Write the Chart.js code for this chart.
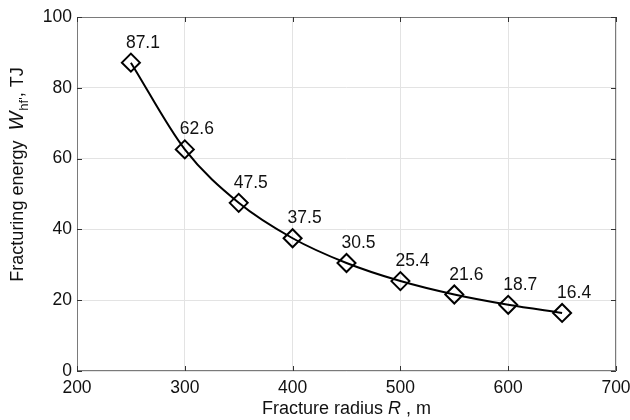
<!DOCTYPE html>
<html>
<head>
<meta charset="utf-8">
<script src="https://cdn.jsdelivr.net/npm/chart.js@4.4.0/dist/chart.umd.min.js"></script>
<style>
  html, body { margin: 0; padding: 0; background: #fff; }
  #wrap { width: 630px; height: 420px; position: relative; }
</style>
</head>
<body>
<div id="wrap"><canvas id="c" width="630" height="420"></canvas></div>
<script>
const radii = [250, 300, 350, 400, 450, 500, 550, 600, 650];
const energy = [87.1, 62.6, 47.5, 37.5, 30.5, 25.4, 21.6, 18.7, 16.4];
const xTicks = [200, 300, 400, 500, 600, 700];
const yTicks = [0, 20, 40, 60, 80, 100];

const FONT = '"Liberation Sans", Arial, sans-serif';

const decor = {
  id: 'decor',
  beforeDatasetsDraw(chart) {
    const ctx = chart.ctx, a = chart.chartArea;
    const xs = chart.scales.x, ys = chart.scales.y;
    ctx.save();
    ctx.strokeStyle = '#7a7a7a';
    ctx.lineWidth = 1;
    ctx.strokeRect(a.left + 0.5, a.top + 0.5, a.right - a.left - 1, a.bottom - a.top - 1);
    ctx.strokeStyle = '#333';
    ctx.beginPath();
    xTicks.forEach(v => {
      const px = Math.round(xs.getPixelForValue(v)) + 0.5;
      ctx.moveTo(px, a.bottom); ctx.lineTo(px, a.bottom - 5);
      ctx.moveTo(px, a.top); ctx.lineTo(px, a.top + 5);
    });
    yTicks.forEach(v => {
      const py = Math.round(ys.getPixelForValue(v)) + 0.5;
      ctx.moveTo(a.left, py); ctx.lineTo(a.left + 5, py);
      ctx.moveTo(a.right, py); ctx.lineTo(a.right - 5, py);
    });
    ctx.stroke();
    ctx.restore();
  },
  afterDraw(chart) {
    const ctx = chart.ctx, a = chart.chartArea;
    const xs = chart.scales.x, ys = chart.scales.y;
    ctx.save();
    ctx.fillStyle = '#111';
    ctx.font = '17.5px ' + FONT;
    ctx.textAlign = 'left';
    ctx.textBaseline = 'alphabetic';
    radii.forEach((r, i) => {
      const px = xs.getPixelForValue(r), py = ys.getPixelForValue(energy[i]);
      ctx.fillText(energy[i].toFixed(1), px - 5, py - 15);
    });
    // x axis title
    const cx = (a.left + a.right) / 2;
    const p1 = 'Fracture radius ', p2 = 'R', p3 = ' , m';
    const F = '18px ' + FONT, FI = 'italic 18px ' + FONT;
    ctx.font = F;
    const w1 = ctx.measureText(p1).width, w3 = ctx.measureText(p3).width;
    ctx.font = FI;
    const w2 = ctx.measureText(p2).width;
    let sx = cx - (w1 + w2 + w3) / 2;
    const by = 414;
    ctx.font = F; ctx.fillText(p1, sx, by); sx += w1;
    ctx.font = FI; ctx.fillText(p2, sx, by); sx += w2;
    ctx.font = F; ctx.fillText(p3, sx, by);
    // y axis title (rotated)
    ctx.translate(23, 175);
    ctx.rotate(-Math.PI / 2);
    const q1 = 'Fracturing energy  ', q2 = 'W', q3 = 'hf\'', q4 = ', TJ';
    const FW = 'italic 20px ' + FONT, FS = '13px ' + FONT;
    ctx.font = F;
    const v1 = ctx.measureText(q1).width, v4 = ctx.measureText(q4).width;
    ctx.font = FW;
    const v2 = ctx.measureText(q2).width;
    ctx.font = FS;
    const v3 = ctx.measureText(q3).width;
    let ty = -(v1 + v2 + v3 + v4) / 2;
    ctx.font = F; ctx.fillText(q1, ty, 0); ty += v1;
    ctx.font = FW; ctx.fillText(q2, ty, 0); ty += v2 + 1;
    ctx.font = FS; ctx.fillText(q3, ty, 5); ty += v3;
    ctx.font = F; ctx.fillText(q4, ty, 0);
    ctx.restore();
  }
};

new Chart(document.getElementById('c'), {
  type: 'line',
  data: {
    datasets: [{
      data: radii.map((r, i) => ({ x: r, y: energy[i] })),
      borderColor: '#000',
      borderWidth: 2,
      tension: 0.4,
      cubicInterpolationMode: 'monotone',
      pointStyle: 'rectRot',
      pointRadius: 9,
      pointBorderWidth: 2,
      pointBorderColor: '#000',
      pointBackgroundColor: 'rgba(0,0,0,0)',
      fill: false
    }]
  },
  options: {
    responsive: false,
    animation: false,
    layout: { padding: { top: 17, right: 14, left: 0, bottom: 0 } },
    plugins: { legend: { display: false }, tooltip: { enabled: false } },
    scales: {
      x: {
        type: 'linear', min: 200, max: 700,
        afterBuildTicks: s => { s.ticks = xTicks.map(v => ({ value: v })); },
        afterFit: s => { s.height = 49; s.paddingLeft = 0; s.paddingRight = 0; },
        grid: { color: '#e3e3e3', drawTicks: false },
        border: { display: false },
        ticks: { color: '#111', font: { family: FONT, size: 17.5 }, padding: 7, maxRotation: 0 }
      },
      y: {
        type: 'linear', min: 0, max: 100,
        afterBuildTicks: s => { s.ticks = yTicks.map(v => ({ value: v })); },
        afterFit: s => { s.width = 77; s.paddingTop = 0; s.paddingBottom = 0; },
        grid: { color: '#e3e3e3', drawTicks: false },
        border: { display: false },
        ticks: { color: '#111', font: { family: FONT, size: 17.5 }, padding: 5 }
      }
    }
  },
  plugins: [decor]
});
</script>
</body>
</html>
